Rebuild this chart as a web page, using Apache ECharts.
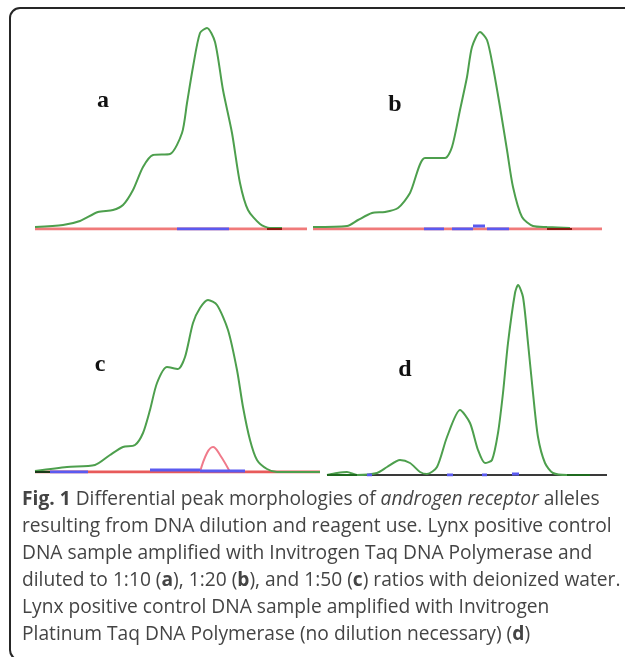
<!DOCTYPE html>
<html><head><meta charset="utf-8">
<script src="https://cdn.jsdelivr.net/npm/echarts@6/dist/echarts.min.js"></script>
<style>html,body{margin:0;padding:0;background:#fff;}#c{width:625px;height:657px;}</style>
</head><body><div id="c"></div>
<script>
// Panel labels
const panelLabels = ['a', 'b', 'c', 'd'];
// Green trace per panel: [scan position, signal intensity]
const greenA = [[0,2],[28,4],[45,8],[63,17],[78,19],[88,24],[98,39],[108,62],[118,74],[135,75],[147,96],[152,126],[158,162],[165,196],[172,201],[180,187],[188,139],[197,96],[205,46],[213,19],[225,5],[235,1],[247,1]];
const greenB = [[0,2],[34,3],[45,9],[59,16],[72,17],[85,21],[97,36],[112,71],[132,71],[139,82],[147,119],[154,152],[159,182],[167,197],[174,189],[180,162],[187,122],[194,79],[200,42],[209,12],[220,3],[234,2],[257,1]];
const greenC = [[0,1],[32,5],[60,7],[75,17],[88,25],[100,27],[108,39],[115,62],[122,89],[132,105],[143,103],[150,115],[158,149],[165,164],[173,172],[182,167],[193,142],[202,102],[208,65],[215,32],[222,12],[232,3],[242,0],[285,0]];
const greenD = [[0,0],[10,2],[20,3],[30,0],[50,2],[60,8],[73,15],[83,12],[93,3],[100,1],[110,8],[120,38],[133,65],[143,52],[151,25],[158,12],[165,15],[171,42],[176,82],[181,132],[188,182],[191,190],[196,178],[201,132],[206,82],[211,38],[218,12],[226,2],[240,0],[263,0]];
// Red trace (panel c small peak)
const redPeakC = [[165,0],[172,19],[178,25],[185,17],[195,0]];
// Baselines (start, end)
const baseA = [[0,0],[272,0]];
const baseB = [[0,0],[289,0]];
const baseC = [[0,0],[285,0]];
const baseD = [[0,0],[280,0]];
// Blue trace segments
const blueA = [[[142,0],[194,0]]];
const blueB = [[[111,0],[131,0]],[[139,0],[160,0]],[[160,3],[172,3]],[[174,0],[196,0]]];
const blueC = [[[15,0],[53,0]],[[115,2],[165,2]],[[165,1],[210,1]]];
const blueD = [[[40,0],[45,0]],[[120,0],[126,0]],[[155,0],[160,0]],[[185,1],[192,1]]];
// Dark segments
const darkA = [[[232,0],[247,0]]];
const darkB = [[[234,0],[259,0]]];
const darkC = [[[0,0],[15,0]]];
const darkD = [[[0,0],[30,0]],[[240,0],[263,0]]];

const captionLines = [
  '{b|Fig. 1} Differential peak morphologies of {i|androgen receptor} alleles',
  'resulting from DNA dilution and reagent use. Lynx positive control',
  'DNA sample amplified with Invitrogen Taq DNA Polymerase and',
  'diluted to 1:10 ({b|a}), 1:20 ({b|b}), and 1:50 ({b|c}) ratios with deionized water.',
  'Lynx positive control DNA sample amplified with Invitrogen',
  'Platinum Taq DNA Polymerase (no dilution necessary) ({b|d})'
];

const grids = [
  {left:35, top:20, width:272, height:209},
  {left:313, top:20, width:289, height:209},
  {left:35, top:280, width:285, height:192},
  {left:327, top:280, width:280, height:195}
];
const panels = [
  {green:greenA, base:baseA, baseColor:'#f07a7a', blue:blueA, dark:darkA, darkColor:'#8a1a10', red:null},
  {green:greenB, base:baseB, baseColor:'#f07a7a', blue:blueB, dark:darkB, darkColor:'#8a1a10', red:null},
  {green:greenC, base:baseC, baseColor:'#e85a5a', blue:blueC, dark:darkC, darkColor:'#1a3a1a', red:redPeakC},
  {green:greenD, base:baseD, baseColor:'#3a3a3a', blue:blueD, dark:darkD, darkColor:'#1f6a1f', red:null}
];

const xAxis = [], yAxis = [], series = [];
grids.forEach((g, i) => {
  xAxis.push({gridIndex:i, type:'value', min:0, max:g.width, show:false});
  yAxis.push({gridIndex:i, type:'value', min:0, max:g.height, show:false});
  const p = panels[i];
  const base = {type:'line', xAxisIndex:i, yAxisIndex:i, symbol:'none', animation:false, silent:true};
  series.push(Object.assign({}, base, {data:p.base, lineStyle:{color:p.baseColor, width:i===3?2:3}}));
  series.push(Object.assign({}, base, {data:p.green, smooth:0.25, lineStyle:{color:'#4d9f4d', width:2}}));
  if (p.red) series.push(Object.assign({}, base, {data:p.red, smooth:0.4, lineStyle:{color:'#f07a8a', width:2}}));
  p.blue.forEach(s => series.push(Object.assign({}, base, {data:s, lineStyle:{color:'#5a5af0', width:3}})));
  p.dark.forEach(s => series.push(Object.assign({}, base, {data:s, lineStyle:{color:p.darkColor, width:2}})));
});

const labelPos = [[103,101],[395,105],[100,365],[405,370]];
const graphic = [
  {type:'rect', shape:{x:10, y:8, width:640, height:652, r:10}, style:{fill:'none', stroke:'#262626', lineWidth:2}, z:-1},
  ...panelLabels.map((t, i) => ({type:'text', x:labelPos[i][0], y:labelPos[i][1],
    style:{text:t, font:'bold 24px "Liberation Serif"', fill:'#111', align:'center', verticalAlign:'middle'}})),
  {type:'text', x:22, y:486, style:{
    text: captionLines.join('\n'),
    font:'19.2px "Open Sans"', fill:'#444', lineHeight:27,
    rich:{
      b:{font:'bold 19.2px "Open Sans"', fill:'#444', lineHeight:27},
      i:{font:'italic 19.2px "Open Sans"', fill:'#444', lineHeight:27}
    }
  }}
];

const chart = echarts.init(document.getElementById('c'), null, {renderer:'canvas'});
chart.setOption({animation:false, grid:grids, xAxis, yAxis, series, graphic});
</script></body></html>
